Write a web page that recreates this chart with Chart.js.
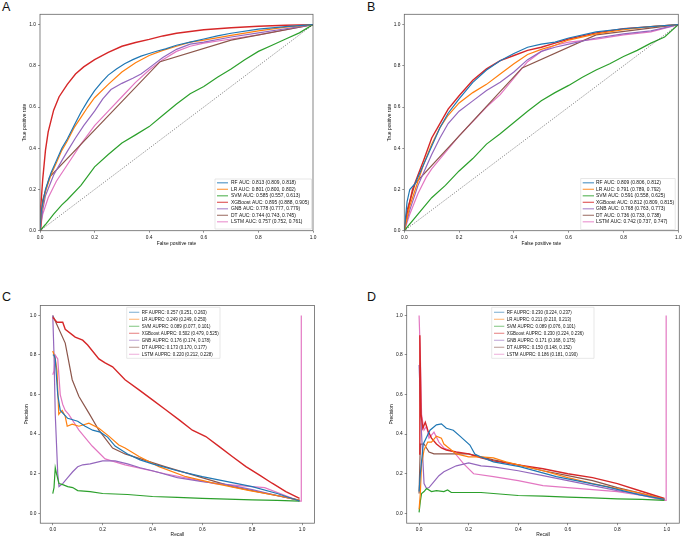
<!DOCTYPE html>
<html>
<head>
<meta charset="utf-8">
<script src="https://cdn.jsdelivr.net/npm/chart.js@4.4.0/dist/chart.umd.min.js"></script>
<style>
body{margin:0;background:#fff;width:685px;height:541px;position:relative;overflow:hidden;font-family:"Liberation Sans",Arial,sans-serif}
canvas{position:absolute}
.tag{position:absolute;font-size:12.5px;line-height:14px;color:#111}
</style>
</head>
<body>
<div class="tag" style="left:2px;top:0px">A</div>
<div class="tag" style="left:367px;top:0px">B</div>
<div class="tag" style="left:2px;top:290px">C</div>
<div class="tag" style="left:367px;top:290px">D</div>
<canvas id="cA" width="342" height="270" style="left:0;top:0"></canvas>
<canvas id="cB" width="343" height="270" style="left:342px;top:0"></canvas>
<canvas id="cC" width="342" height="271" style="left:0;top:270px"></canvas>
<canvas id="cD" width="343" height="271" style="left:342px;top:270px"></canvas>
<script>
var models = ['RF', 'LR', 'SVM', 'XGBoost', 'GNB', 'DT', 'LSTM'];
var colors = ['#1f77b4', '#ff7f0e', '#2ca02c', '#d62728', '#9467bd', '#8c564b', '#e377c2'];

var aucA = ['0.813 (0.809, 0.818)', '0.801 (0.800, 0.802)', '0.585 (0.557, 0.613)', '0.895 (0.888, 0.905)',
            '0.778 (0.777, 0.779)', '0.744 (0.743, 0.745)', '0.757 (0.752, 0.761)'];
var aucB = ['0.809 (0.806, 0.812)', '0.791 (0.789, 0.792)', '0.591 (0.558, 0.625)', '0.812 (0.809, 0.815)',
            '0.768 (0.763, 0.773)', '0.736 (0.733, 0.738)', '0.742 (0.737, 0.747)'];
var auprcC = ['0.257 (0.251, 0.263)', '0.249 (0.249, 0.250)', '0.089 (0.077, 0.101)', '0.502 (0.479, 0.525)',
              '0.176 (0.174, 0.178)', '0.173 (0.170, 0.177)', '0.220 (0.212, 0.228)'];
var auprcD = ['0.230 (0.224, 0.237)', '0.211 (0.210, 0.213)', '0.089 (0.076, 0.101)', '0.230 (0.224, 0.236)',
              '0.171 (0.168, 0.175)', '0.150 (0.148, 0.152)', '0.186 (0.181, 0.190)'];

var chance = [[0, 0], [1, 1]];

// panel A, ROC (fpr, tpr)
var rocA_RF = [[0,0],[0.005,0.1],[0.02,0.2],[0.04,0.28],[0.06,0.34],[0.08,0.4],[0.1,0.445],[0.125,0.51],[0.15,0.575],[0.175,0.63],[0.2,0.68],[0.225,0.72],[0.25,0.755],[0.28,0.785],[0.31,0.81],[0.34,0.83],[0.37,0.847],[0.4,0.86],[0.43,0.872],[0.46,0.882],[0.5,0.9],[0.55,0.915],[0.6,0.93],[0.65,0.945],[0.7,0.958],[0.8,0.978],[0.9,0.99],[1,1]];
var rocA_LR = [[0,0],[0.005,0.09],[0.02,0.19],[0.04,0.27],[0.06,0.33],[0.08,0.39],[0.1,0.435],[0.125,0.5],[0.15,0.55],[0.175,0.6],[0.2,0.645],[0.25,0.71],[0.3,0.77],[0.35,0.815],[0.4,0.85],[0.45,0.875],[0.5,0.895],[0.55,0.915],[0.6,0.925],[0.7,0.948],[0.8,0.97],[0.9,0.988],[1,1]];
var rocA_SVM = [[0,0],[0.02,0.03],[0.05,0.08],[0.08,0.125],[0.1,0.15],[0.15,0.22],[0.2,0.31],[0.25,0.37],[0.3,0.425],[0.35,0.465],[0.4,0.505],[0.45,0.56],[0.5,0.615],[0.55,0.665],[0.6,0.7],[0.65,0.745],[0.7,0.785],[0.75,0.83],[0.8,0.87],[0.85,0.9],[0.9,0.93],[0.95,0.96],[1,1]];
var rocA_XGB = [[0,0],[0.003,0.12],[0.01,0.25],[0.02,0.39],[0.03,0.48],[0.05,0.585],[0.07,0.65],[0.1,0.71],[0.13,0.76],[0.16,0.795],[0.2,0.83],[0.25,0.865],[0.3,0.895],[0.35,0.913],[0.4,0.928],[0.45,0.945],[0.5,0.958],[0.6,0.975],[0.7,0.985],[0.8,0.992],[0.9,0.997],[1,1]];
var rocA_GNB = [[0,0],[0.01,0.1],[0.02,0.17],[0.05,0.27],[0.08,0.34],[0.1,0.385],[0.13,0.45],[0.16,0.51],[0.2,0.58],[0.23,0.64],[0.26,0.685],[0.3,0.715],[0.34,0.74],[0.37,0.76],[0.4,0.79],[0.45,0.84],[0.5,0.88],[0.55,0.905],[0.6,0.915],[0.7,0.94],[0.8,0.96],[0.9,0.98],[1,1]];
var rocA_DT = [[0,0],[0.01,0.15],[0.035,0.26],[0.44,0.82],[0.7,0.925],[1,1]];
var rocA_LSTM = [[0,0],[0.01,0.08],[0.03,0.16],[0.06,0.24],[0.1,0.32],[0.15,0.42],[0.2,0.51],[0.25,0.58],[0.3,0.65],[0.35,0.72],[0.4,0.78],[0.45,0.83],[0.5,0.87],[0.55,0.895],[0.6,0.91],[0.7,0.93],[0.8,0.95],[0.9,0.975],[1,1]];

// panel B, ROC
var rocB_RF = [[0,0],[0.01,0.14],[0.02,0.2],[0.04,0.23],[0.07,0.32],[0.1,0.41],[0.13,0.5],[0.16,0.57],[0.2,0.64],[0.25,0.72],[0.3,0.78],[0.35,0.825],[0.4,0.86],[0.45,0.89],[0.5,0.905],[0.55,0.915],[0.6,0.935],[0.7,0.965],[0.8,0.98],[0.9,0.99],[1,1]];
var rocB_LR = [[0,0],[0.02,0.12],[0.04,0.2],[0.07,0.32],[0.1,0.42],[0.13,0.5],[0.16,0.56],[0.2,0.62],[0.25,0.67],[0.3,0.71],[0.35,0.76],[0.4,0.81],[0.45,0.855],[0.5,0.88],[0.55,0.9],[0.6,0.925],[0.7,0.955],[0.8,0.975],[0.9,0.99],[1,1]];
var rocB_SVM = [[0,0],[0.05,0.08],[0.1,0.16],[0.15,0.22],[0.2,0.29],[0.25,0.35],[0.3,0.42],[0.35,0.47],[0.4,0.525],[0.45,0.58],[0.5,0.63],[0.55,0.67],[0.6,0.705],[0.65,0.745],[0.7,0.78],[0.75,0.81],[0.8,0.845],[0.85,0.875],[0.9,0.91],[0.95,0.94],[1,1]];
var rocB_XGB = [[0,0],[0.01,0.08],[0.03,0.2],[0.05,0.27],[0.07,0.34],[0.1,0.45],[0.13,0.52],[0.16,0.59],[0.2,0.655],[0.25,0.73],[0.3,0.785],[0.35,0.825],[0.4,0.85],[0.45,0.875],[0.5,0.89],[0.55,0.91],[0.6,0.93],[0.7,0.96],[0.8,0.98],[0.9,0.99],[1,1]];
var rocB_GNB = [[0,0],[0.02,0.1],[0.05,0.22],[0.08,0.31],[0.1,0.37],[0.13,0.45],[0.16,0.52],[0.2,0.58],[0.25,0.63],[0.3,0.68],[0.35,0.72],[0.4,0.77],[0.45,0.83],[0.5,0.87],[0.55,0.89],[0.6,0.905],[0.7,0.935],[0.8,0.955],[0.9,0.97],[1,1]];
var rocB_DT = [[0,0],[0.01,0.1],[0.04,0.23],[0.43,0.79],[0.7,0.95],[1,1]];
var rocB_LSTM = [[0,0],[0.02,0.08],[0.05,0.18],[0.08,0.26],[0.1,0.3],[0.15,0.38],[0.2,0.46],[0.25,0.53],[0.3,0.6],[0.35,0.66],[0.4,0.74],[0.45,0.82],[0.5,0.87],[0.55,0.9],[0.6,0.915],[0.7,0.93],[0.8,0.95],[0.9,0.965],[1,1]];

// panel C, precision-recall (recall, precision)
var prC_RF = [[0,0.8],[0.005,0.8],[0.01,0.78],[0.02,0.6],[0.03,0.52],[0.045,0.5],[0.06,0.48],[0.1,0.465],[0.13,0.44],[0.16,0.42],[0.19,0.41],[0.22,0.385],[0.25,0.34],[0.3,0.3],[0.35,0.27],[0.4,0.25],[0.5,0.215],[0.6,0.185],[0.7,0.16],[0.8,0.135],[0.9,0.1],[0.99,0.062]];
var prC_LR = [[0,0.82],[0.01,0.78],[0.017,0.72],[0.024,0.5],[0.03,0.51],[0.038,0.52],[0.05,0.49],[0.058,0.44],[0.078,0.45],[0.105,0.44],[0.145,0.455],[0.185,0.43],[0.225,0.39],[0.265,0.345],[0.29,0.33],[0.346,0.287],[0.426,0.236],[0.534,0.185],[0.654,0.15],[0.79,0.115],[0.92,0.085],[0.99,0.065]];
var prC_SVM = [[0,0.1],[0.005,0.13],[0.01,0.23],[0.015,0.2],[0.025,0.15],[0.04,0.145],[0.06,0.135],[0.08,0.13],[0.1,0.115],[0.15,0.11],[0.2,0.1],[0.3,0.095],[0.4,0.085],[0.5,0.08],[0.6,0.075],[0.7,0.072],[0.8,0.068],[0.9,0.065],[0.99,0.062]];
var prC_XGB = [[0,0.99],[0.017,0.965],[0.04,0.965],[0.05,0.93],[0.09,0.89],[0.12,0.875],[0.14,0.85],[0.185,0.78],[0.21,0.76],[0.24,0.74],[0.29,0.675],[0.346,0.624],[0.4,0.573],[0.453,0.523],[0.507,0.472],[0.56,0.42],[0.614,0.388],[0.668,0.337],[0.72,0.287],[0.775,0.236],[0.828,0.194],[0.88,0.152],[0.935,0.11],[0.99,0.076]];
var prC_GNB = [[0,1.0],[0.005,0.8],[0.01,0.5],[0.02,0.2],[0.025,0.135],[0.04,0.15],[0.06,0.18],[0.08,0.21],[0.1,0.235],[0.12,0.245],[0.15,0.25],[0.2,0.265],[0.25,0.265],[0.3,0.25],[0.35,0.23],[0.4,0.215],[0.5,0.18],[0.6,0.16],[0.7,0.145],[0.8,0.12],[0.9,0.09],[0.99,0.065]];
var prC_DT = [[0,1.0],[0.05,0.86],[0.078,0.675],[0.105,0.59],[0.145,0.506],[0.185,0.42],[0.24,0.33],[0.29,0.3],[0.45,0.236],[0.72,0.135],[0.99,0.067]];
var prC_LSTM = [[0,0.7],[0.005,0.72],[0.01,0.8],[0.02,0.78],[0.03,0.6],[0.04,0.55],[0.05,0.52],[0.064,0.5],[0.105,0.42],[0.158,0.34],[0.21,0.275],[0.29,0.245],[0.45,0.2],[0.65,0.15],[0.85,0.13],[0.99,0.062],[0.997,0.062],[0.997,1.0]];

// panel D, precision-recall
var prD_RF = [[0,0.11],[0.005,0.2],[0.017,0.35],[0.044,0.42],[0.07,0.447],[0.09,0.452],[0.11,0.43],[0.138,0.42],[0.165,0.39],[0.205,0.345],[0.225,0.3],[0.245,0.287],[0.3,0.26],[0.406,0.236],[0.554,0.185],[0.755,0.135],[0.89,0.093],[0.99,0.07]];
var prD_LR = [[0,0.02],[0.005,0.1],[0.01,0.25],[0.02,0.32],[0.035,0.36],[0.05,0.36],[0.07,0.39],[0.09,0.38],[0.1,0.35],[0.12,0.33],[0.15,0.3],[0.2,0.285],[0.25,0.285],[0.3,0.28],[0.35,0.26],[0.4,0.245],[0.5,0.215],[0.6,0.18],[0.7,0.15],[0.8,0.125],[0.9,0.1],[0.99,0.07]];
var prD_SVM = [[0,0.005],[0.005,0.06],[0.01,0.1],[0.02,0.11],[0.03,0.125],[0.05,0.11],[0.07,0.115],[0.1,0.11],[0.115,0.118],[0.13,0.105],[0.2,0.105],[0.25,0.105],[0.3,0.1],[0.4,0.09],[0.5,0.087],[0.6,0.082],[0.7,0.078],[0.8,0.073],[0.9,0.07],[0.99,0.065]];
var prD_XGB = [[0,0.3],[0.003,0.9],[0.008,0.5],[0.015,0.43],[0.025,0.46],[0.035,0.42],[0.05,0.38],[0.07,0.35],[0.09,0.33],[0.11,0.32],[0.15,0.31],[0.2,0.3],[0.25,0.28],[0.3,0.265],[0.4,0.245],[0.5,0.225],[0.6,0.2],[0.7,0.18],[0.8,0.15],[0.9,0.11],[0.99,0.075]];
var prD_GNB = [[0,0.75],[0.01,0.4],[0.02,0.15],[0.03,0.125],[0.04,0.13],[0.06,0.16],[0.08,0.19],[0.1,0.21],[0.15,0.24],[0.2,0.255],[0.25,0.24],[0.3,0.235],[0.4,0.215],[0.5,0.19],[0.6,0.165],[0.7,0.14],[0.8,0.115],[0.9,0.095],[0.99,0.07]];
var prD_DT = [[0,0.1],[0.005,0.35],[0.02,0.35],[0.04,0.31],[0.06,0.3],[0.1,0.3],[0.2,0.3],[0.25,0.285],[0.3,0.27],[0.4,0.245],[0.5,0.215],[0.6,0.19],[0.7,0.165],[0.8,0.13],[0.9,0.1],[0.99,0.07]];
var prD_LSTM = [[0,1.0],[0.005,0.8],[0.01,0.5],[0.02,0.42],[0.03,0.44],[0.04,0.38],[0.06,0.41],[0.08,0.36],[0.1,0.33],[0.14,0.31],[0.18,0.25],[0.22,0.2],[0.3,0.185],[0.4,0.165],[0.5,0.14],[0.6,0.13],[0.7,0.12],[0.8,0.11],[0.9,0.09],[0.99,0.065],[0.997,0.065],[0.997,1.0]];

var rocA = [rocA_RF, rocA_LR, rocA_SVM, rocA_XGB, rocA_GNB, rocA_DT, rocA_LSTM];
var rocB = [rocB_RF, rocB_LR, rocB_SVM, rocB_XGB, rocB_GNB, rocB_DT, rocB_LSTM];
var prC = [prC_RF, prC_LR, prC_SVM, prC_XGB, prC_GNB, prC_DT, prC_LSTM];
var prD = [prD_RF, prD_LR, prD_SVM, prD_XGB, prD_GNB, prD_DT, prD_LSTM];

var FONT = '"Liberation Sans", Arial, sans-serif';
var TITLE_SIZE = 4.9;

function toXY(pts) {
    return pts.map(function(p) { return {x: p[0], y: p[1]}; });
}

function hexAlpha(hex, a) {
    var n = parseInt(hex.slice(1), 16);
    return 'rgba(' + (n >> 16) + ',' + ((n >> 8) & 255) + ',' + (n & 255) + ',' + a + ')';
}

function curveSets(curves, labels, kind, withChance) {
    var sets = [];
    if (withChance) {
        sets.push({data: toXY(chance), borderColor: '#222', borderWidth: 0.6, borderDash: [1, 1.4],
                   showLine: true, pointRadius: 0});
    }
    curves.forEach(function(c, i) {
        sets.push({label: models[i] + ' ' + kind + ': ' + labels[i], data: toXY(c),
                   borderColor: colors[i], borderWidth: (i == 3 ? 1.4 : 1.2), showLine: true, pointRadius: 0, tension: 0});
    });
    return sets;
}

// box round the plot area
var frame = {
    id: 'frame',
    afterDatasetsDraw: function(chart) {
        var a = chart.chartArea, ctx = chart.ctx;
        ctx.save();
        ctx.strokeStyle = '#666';
        ctx.lineWidth = 0.8;
        ctx.strokeRect(a.left, a.top, a.right - a.left, a.bottom - a.top);
        ctx.restore();
    }
};

// legend drawn inside the axes, like matplotlib
var boxLegend = {
    id: 'boxLegend',
    afterDraw: function(chart, args, o) {
        var ctx = chart.ctx;
        ctx.save();
        ctx.fillStyle = 'rgba(255,255,255,0.9)';
        ctx.strokeStyle = '#d6d6d6';
        ctx.lineWidth = 0.6;
        ctx.beginPath();
        ctx.rect(o.x, o.y, o.w, o.h);
        ctx.fill();
        ctx.stroke();
        ctx.font = o.size + 'px ' + FONT;
        ctx.textBaseline = 'middle';
        var row = 0;
        chart.data.datasets.forEach(function(ds) {
            if (!ds.label) return;
            var y = o.row0 + row * o.rowH;
            ctx.strokeStyle = hexAlpha(ds.borderColor, o.alpha);
            ctx.lineWidth = 1.2;
            ctx.beginPath();
            ctx.moveTo(o.lx0, y);
            ctx.lineTo(o.lx1, y);
            ctx.stroke();
            ctx.fillStyle = '#111';
            ctx.fillText(ds.label, o.tx, y + 0.3);
            row++;
        });
        ctx.restore();
    }
};

function axis(min, max, title, fixSize) {
    return {
        type: 'linear', min: min, max: max,
        afterFit: fixSize,
        ticks: {stepSize: 0.2, includeBounds: false, padding: 2, color: '#111',
                font: {family: FONT, size: 4.8},
                callback: function(v) { return v.toFixed(1); }},
        grid: {display: true, drawOnChartArea: false, drawTicks: true, tickLength: 2, color: '#444', lineWidth: 0.6},
        border: {display: false},
        title: {display: true, text: title, color: '#111', padding: 0, font: {family: FONT, size: TITLE_SIZE}}
    };
}

function makePanel(id, o) {
    var cv = document.getElementById(id);
    var W = cv.width, H = cv.height;
    var half = TITLE_SIZE * 1.2 / 2;
    var padL = o.yTitleX - half;
    var padB = H - o.xTitleY - half;
    return new Chart(cv, {
        type: 'scatter',
        data: {datasets: o.datasets},
        options: {
            responsive: false,
            animation: false,
            devicePixelRatio: 1,
            layout: {padding: {left: padL, top: o.top, right: W - o.right, bottom: padB}},
            plugins: {legend: {display: false}, tooltip: {enabled: false}, boxLegend: o.legend},
            scales: {
                x: axis(o.xMin, o.xMax, o.xTitle, function(s) { s.height = H - padB - o.bottom; }),
                y: axis(o.yMin, o.yMax, o.yTitle, function(s) { s.width = o.left - padL; })
            }
        },
        plugins: [frame, boxLegend]
    });
}

makePanel('cA', {
    left: 40, top: 14.3, right: 313, bottom: 230.7, xTitleY: 244, yTitleX: 25,
    xMin: 0, xMax: 1, yMin: 0, yMax: 1.05,
    xTitle: 'False positive rate', yTitle: 'True positive rate',
    datasets: curveSets(rocA, aucA, 'AUC', true),
    legend: {x: 215, y: 179, w: 96.5, h: 50, row0: 182.8, rowH: 6.5, lx0: 217, lx1: 228, tx: 231, size: 4.9, alpha: 0.75}
});

makePanel('cB', {
    left: 62.3, top: 14.3, right: 336.3, bottom: 230.7, xTitleY: 244, yTitleX: 48,
    xMin: 0, xMax: 1, yMin: 0, yMax: 1.05,
    xTitle: 'False positive rate', yTitle: 'True positive rate',
    datasets: curveSets(rocB, aucB, 'AUC', true),
    legend: {x: 238.7, y: 178.5, w: 94.5, h: 51, row0: 182.8, rowH: 6.5, lx0: 240.7, lx1: 252, tx: 254, size: 4.9, alpha: 0.75}
});

makePanel('cC', {
    left: 40.3, top: 35.5, right: 314.5, bottom: 253.2, xTitleY: 265, yTitleX: 26.7,
    xMin: -0.05, xMax: 1.05, yMin: -0.05, yMax: 1.05,
    xTitle: 'Recall', yTitle: 'Precision',
    datasets: curveSets(prC, auprcC, 'AUPRC', false),
    legend: {x: 126.7, y: 37.3, w: 93.3, h: 51, row0: 42.3, rowH: 7, lx0: 129, lx1: 139.3, tx: 141.7, size: 4.45, alpha: 0.5}
});

makePanel('cD', {
    left: 64.7, top: 35.5, right: 337.3, bottom: 253.2, xTitleY: 265, yTitleX: 49.7,
    xMin: -0.05, xMax: 1.05, yMin: -0.05, yMax: 1.05,
    xTitle: 'Recall', yTitle: 'Precision',
    datasets: curveSets(prD, auprcD, 'AUPRC', false),
    legend: {x: 149.7, y: 37.3, w: 102.3, h: 51, row0: 42.3, rowH: 7, lx0: 152, lx1: 162.3, tx: 164.7, size: 4.45, alpha: 0.5}
});
</script>
</body>
</html>
